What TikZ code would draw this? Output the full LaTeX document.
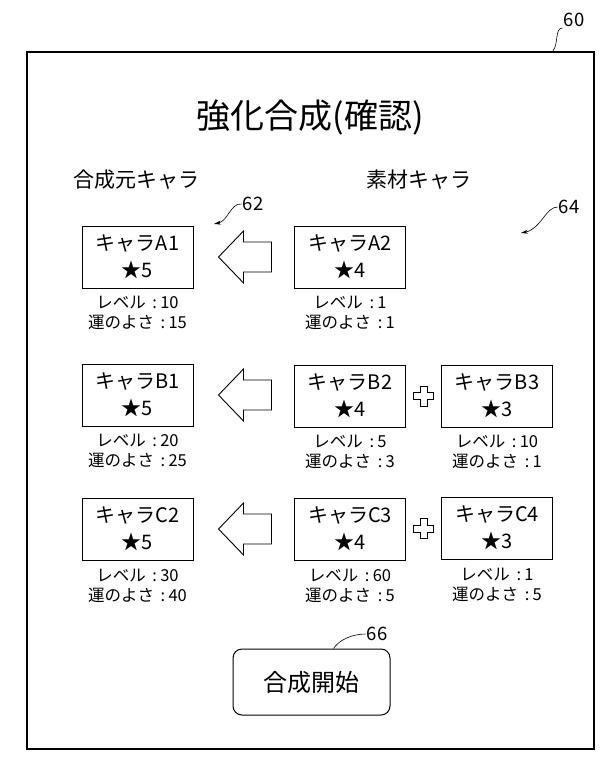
\documentclass[tikz,border=0pt]{standalone}
\usepackage{fontspec}
\setmainfont{Noto Sans CJK JP}
\usetikzlibrary{arrows.meta,calc}
\newcommand\statcolon{\hspace{0.4em}:\hspace{0.2em}}
\begin{document}
\begin{tikzpicture}[x=1pt,y=-1pt,
  charbox/.style={draw, line width=1pt, minimum width=111pt, minimum height=62pt, inner sep=0pt, align=center, font=\fontsize{20}{27}\selectfont},
  stat/.style={font=\fontsize{16.5}{20.5}\selectfont, align=center, inner sep=0pt, anchor=north},
  head/.style={font=\fontsize{21}{25}\selectfont, inner sep=0pt},
  refnum/.style={font=\fontsize{18.5}{20}\selectfont, inner sep=1pt},
  leader/.style={line width=0.6pt},
  leaderarrow/.style={line width=0.6pt, -{Stealth[length=7pt,width=4pt]}},
  bigarrow/.style={draw, line width=0.9pt, line join=miter},
  plusmark/.pic={\draw[line width=0.8pt] (-3.5,-10) -- (3.5,-10) -- (3.5,-3.5) -- (10,-3.5) -- (10,3.5) -- (3.5,3.5) -- (3.5,10) -- (-3.5,10) -- (-3.5,3.5) -- (-10,3.5) -- (-10,-3.5) -- (-3.5,-3.5) -- cycle;}
]
\useasboundingbox (0,0) rectangle (611,770);
% outer frame
\node[draw, line width=1.8pt, minimum width=567pt, minimum height=697pt, inner sep=0pt, anchor=north west] (frame) at (26,51) {};
% title and headers
\node[font=\fontsize{34}{40}\selectfont, inner sep=0pt] (title) at (310,118) {強化合成(確認)};
\node[head] (srchead) at (136,180) {合成元キャラ};
\node[head] (mathead) at (419,180) {素材キャラ};
% row A
\node[charbox] (a1) at (137.5,257) {キャラA1\\★5};
\node[charbox] (a2) at (350,257) {キャラA2\\★4};
\node[stat] (a1s) at ($(a1.south)+(0,7)$) {レベル\statcolon 10\\運のよさ\statcolon 15};
\node[stat] (a2s) at ($(a2.south)+(0,7)$) {レベル\statcolon 1\\運のよさ\statcolon 1};
\draw[bigarrow] ($(a1.east)+(25,0)$) -- ++(25,-26) -- ++(0,11) -- ++(28,0) -- ++(0,30) -- ++(-28,0) -- ++(0,11) -- cycle;
% row B
\node[charbox] (b1) at (137.5,395) {キャラB1\\★5};
\node[charbox] (b2) at (350,396) {キャラB2\\★4};
\node[charbox] (b3) at (497,396) {キャラB3\\★3};
\node[stat] (b1s) at ($(b1.south)+(0,7)$) {レベル\statcolon 20\\運のよさ\statcolon 25};
\node[stat] (b2s) at ($(b2.south)+(0,7)$) {レベル\statcolon 5\\運のよさ\statcolon 3};
\node[stat] (b3s) at ($(b3.south)+(0,7)$) {レベル\statcolon 10\\運のよさ\statcolon 1};
\draw[bigarrow] ($(b1.east)+(25,0)$) -- ++(25,-26) -- ++(0,11) -- ++(28,0) -- ++(0,30) -- ++(-28,0) -- ++(0,11) -- cycle;
\pic at ($(b2.east)!0.5!(b3.west)$) {plusmark};
% row C
\node[charbox] (c2) at (137.5,529) {キャラC2\\★5};
\node[charbox] (c3) at (350,529) {キャラC3\\★4};
\node[charbox] (c4) at (497,528) {キャラC4\\★3};
\node[stat] (c2s) at ($(c2.south)+(0,8)$) {レベル\statcolon 30\\運のよさ\statcolon 40};
\node[stat] (c3s) at ($(c3.south)+(0,8)$) {レベル\statcolon 60\\運のよさ\statcolon 5};
\node[stat] (c4s) at ($(c4.south)+(0,8)$) {レベル\statcolon 1\\運のよさ\statcolon 5};
\draw[bigarrow] ($(c2.east)+(25,0)$) -- ++(25,-26) -- ++(0,11) -- ++(28,0) -- ++(0,30) -- ++(-28,0) -- ++(0,11) -- cycle;
\pic at ($(c3.east)!0.5!(c4.west)$) {plusmark};
% start button
\node[draw, rounded corners=9pt, line width=1pt, minimum width=157pt, minimum height=66pt, inner sep=0pt, font=\fontsize{24}{28}\selectfont] (start) at (311.5,682) {合成開始};
% reference numerals
\node[refnum] (r60) at (574,20) {60};
\coordinate (p60) at ($(frame.north east)+(-42,0)$);
\draw[leader] (r60.south west) .. controls +(-8,0) and +(6,-7) .. (p60);
\node[refnum] (r62) at (253,204) {62};
\coordinate (p62) at (214,224);
\draw[leaderarrow] (r62.west) .. controls +(-11,-1) and +(14,-3) .. (p62);
\node[refnum] (r64) at (569,207) {64};
\coordinate (p64) at (521,233);
\draw[leaderarrow] (r64.west) .. controls +(-12,0) and +(20,-4) .. (p64);
\node[refnum] (r66) at (377,634) {66};
\draw[leader] (r66.west) .. controls +(-14,0) and +(5,-8) .. ($(start.north)+(22,0)$);
\end{tikzpicture}
\end{document}
